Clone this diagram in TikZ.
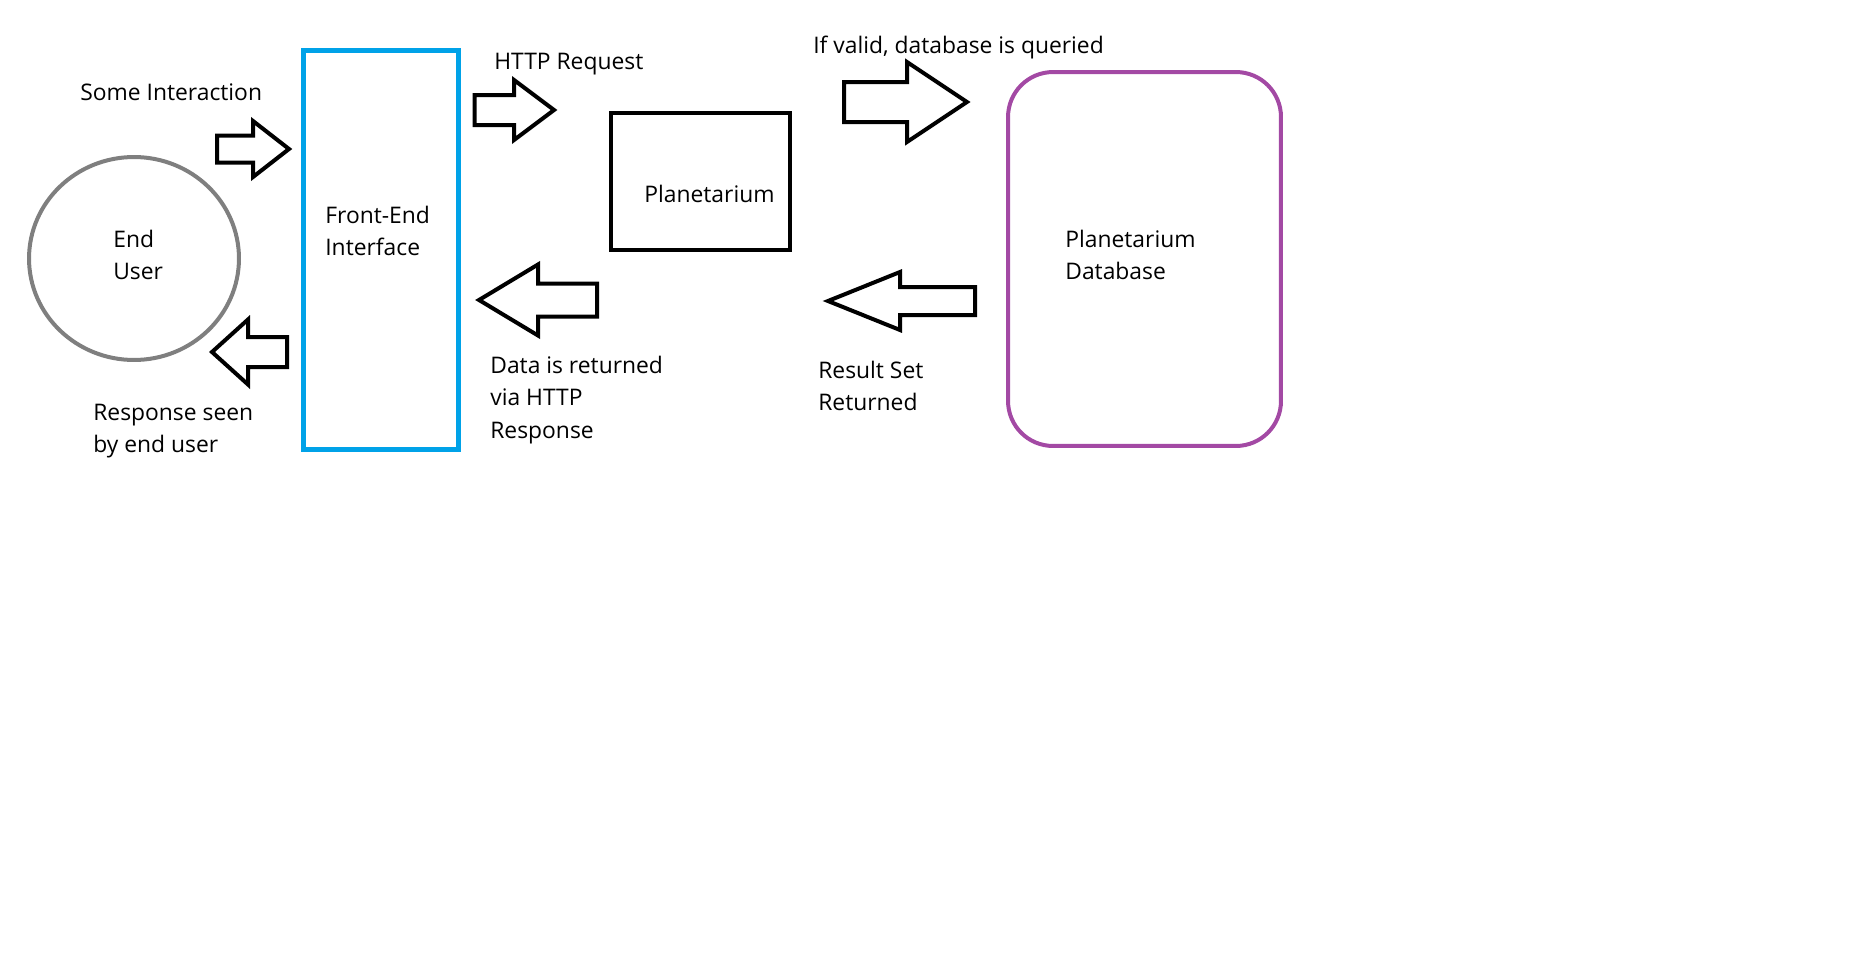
\documentclass[tikz,border=0pt]{standalone}
\usepackage{fontspec}
\usetikzlibrary{shapes.geometric}
\setmainfont{Open Sans}
\definecolor{paintblue}{HTML}{00A2E8}
\definecolor{paintpurple}{HTML}{A349A4}
\definecolor{paintgray}{HTML}{7F7F7F}
\begin{document}
\begin{tikzpicture}[x=0.02cm, y=-0.02cm,
  lbl/.style={anchor=west, align=left, inner sep=0pt, font=\fontsize{13}{18.6}\selectfont},
  fat/.style={draw, line width=0.08cm, line join=miter}]
\useasboundingbox (0,0) rectangle (1869,970);
% boxes
\node[fat, draw=paintgray, ellipse, minimum width=4.2cm, minimum height=4.06cm] (user) at (134,258.5) {};
\node[fat, draw=paintblue, line width=0.1cm, minimum width=3.1cm, minimum height=8.0cm] (front) at (381,250) {};
\node[fat, minimum width=3.58cm, minimum height=2.76cm] (planet) at (700.5,181.5) {};
\node[fat, draw=paintpurple, rounded corners=0.9cm, minimum width=5.46cm, minimum height=7.48cm] (db) at (1144.5,259) {};
% texts
\node[lbl] (usertxt) at (113,255) {End\\User};
\node[lbl] (fronttxt) at (325,231) {Front-End\\Interface};
\node[lbl] (planettxt) at (644,194) {Planetarium};
\node[lbl] (dbtxt) at (1065,255) {Planetarium\\Database};
\node[lbl] (some) at (80,92) {Some Interaction};
\node[lbl] (resp) at (93,431) {Response seen\\by end user};
\node[lbl] (req) at (494,64) {HTTP Request};
\node[lbl] (back) at (490,400) {Data is returned\\via HTTP\\Response};
\node[lbl] (query) at (813,48) {If valid, database is queried};
\node[lbl] (result) at (818,386) {Result Set\\Returned};
% block arrows: tail/neck/tip/y/half tail/half head
\foreach \a/\b/\c/\y/\t/\h in {217/253/289/149/13.5/28, 287/248/212/352/15/32.5,
    474.5/514/554/110/15/30, 597/538/479/300/16.5/35.5,
    844/907/967/102/20/40, 975/900/828/301/14/29}
  \draw[fat] (\a,{\y-\t}) -- (\b,{\y-\t}) -- (\b,{\y-\h}) -- (\c,\y)
     -- (\b,{\y+\h}) -- (\b,{\y+\t}) -- (\a,{\y+\t}) -- cycle;
\end{tikzpicture}
\end{document}
